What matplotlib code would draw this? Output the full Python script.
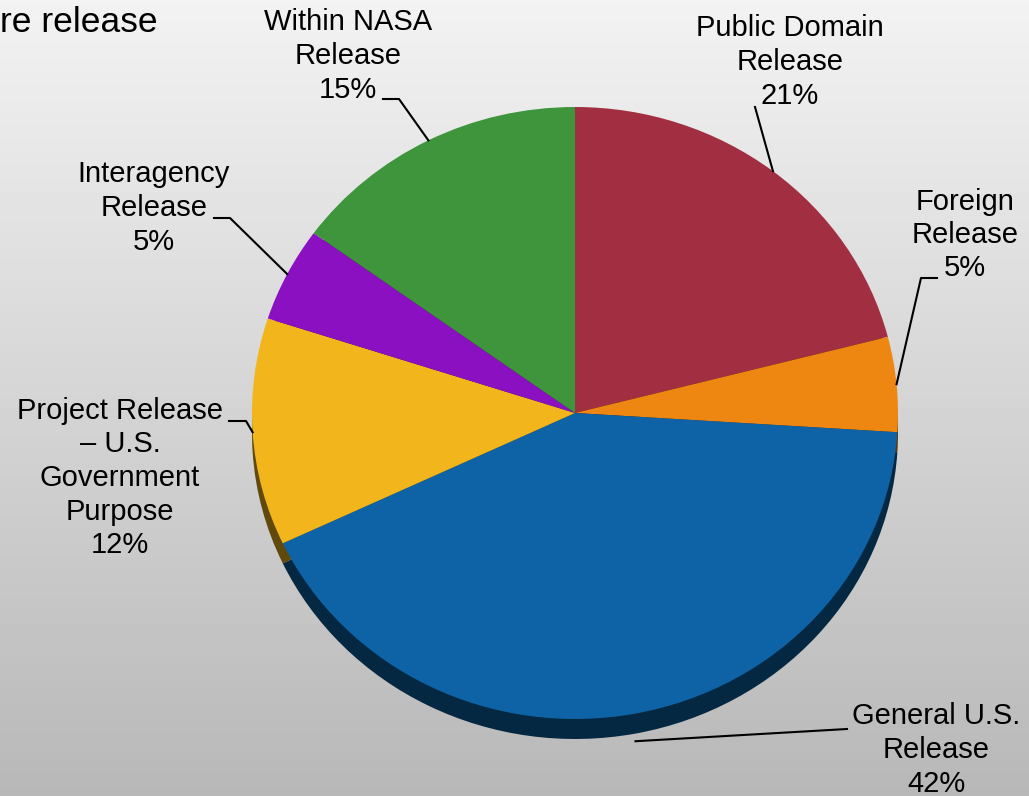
import matplotlib.pyplot as plt
import matplotlib.colors as mcolors
import numpy as np

plt.rcParams['font.family'] = ['Liberation Sans', 'DejaVu Sans']

labels = ["Public Domain\nRelease", "Foreign\nRelease", "General U.S.\nRelease",
          "Project Release\n– U.S.\nGovernment\nPurpose", "Interagency\nRelease",
          "Within NASA\nRelease"]
shares = [21, 5, 42, 12, 5, 15]
colors = ["#A22F41", "#EE8712", "#0D63A5", "#F2B51C", "#8A10C2", "#3E953C"]

# layout in pixels (y from top)
W, H = 1029, 796
cx, cy, rx, ry, depth = 575, 413, 323, 306, 20
text_pos = [(790, 62), (965, 235), (936, 750), (120, 478), (154, 208), (348, 56)]
elbows = [[(755, 107)], [(937, 278), (921, 278)], [(847, 729)],
          [(229, 421), (246, 421)], [(214, 218), (230, 218)], [(383, 99), (399, 99)]]

fig = plt.figure(figsize=(W / 100, H / 100), dpi=100)

bg = fig.add_axes([0, 0, 1, 1], zorder=0)
grad = np.linspace(0.95, 0.72, 256)[:, None]
bg.imshow(grad, cmap='gray', vmin=0, vmax=1, aspect='auto', extent=(0, W, H, 0))
bg.set_xlim(0, W)
bg.set_ylim(H, 0)
bg.axis('off')

ax = fig.add_axes([0, 0, 1, 1], zorder=1)
ax.patch.set_alpha(0)
side_colors = [tuple(np.array(mcolors.to_rgb(c)) * 0.4) for c in colors]
ax.pie(shares, colors=side_colors, startangle=90, counterclock=False,
       center=(0, -depth / ry), radius=1, frame=True,
       wedgeprops=dict(linewidth=0))
wedges, _ = ax.pie(shares, colors=colors, startangle=90, counterclock=False,
                   center=(0, 0), radius=1, frame=True,
                   wedgeprops=dict(linewidth=0))
ax.set_xlim((0 - cx) / rx, (W - cx) / rx)
ax.set_ylim((cy - H) / ry, cy / ry)
ax.set_aspect('auto')
ax.axis('off')

for w, lab, val, tp, el in zip(wedges, labels, shares, text_pos, elbows):
    ang = np.radians((w.theta1 + w.theta2) / 2)
    px = cx + rx * np.cos(ang)
    py = cy - ry * np.sin(ang)
    if np.sin(ang) < -0.5:
        py += depth * -np.sin(ang) + 8
    xs = [p[0] for p in el] + [px]
    ys = [p[1] for p in el] + [py]
    ax.plot(xs, ys, color='black', lw=1.5, transform=bg.transData, clip_on=False)
    ax.text(tp[0], tp[1], f"{lab}\n{val}%", ha='center', va='center', fontsize=21,
            linespacing=1.25, transform=bg.transData)

ax.text(0, 22, "re release", ha='left', va='center', fontsize=25.5,
        transform=bg.transData)

fig.savefig("out.png", dpi=100)
